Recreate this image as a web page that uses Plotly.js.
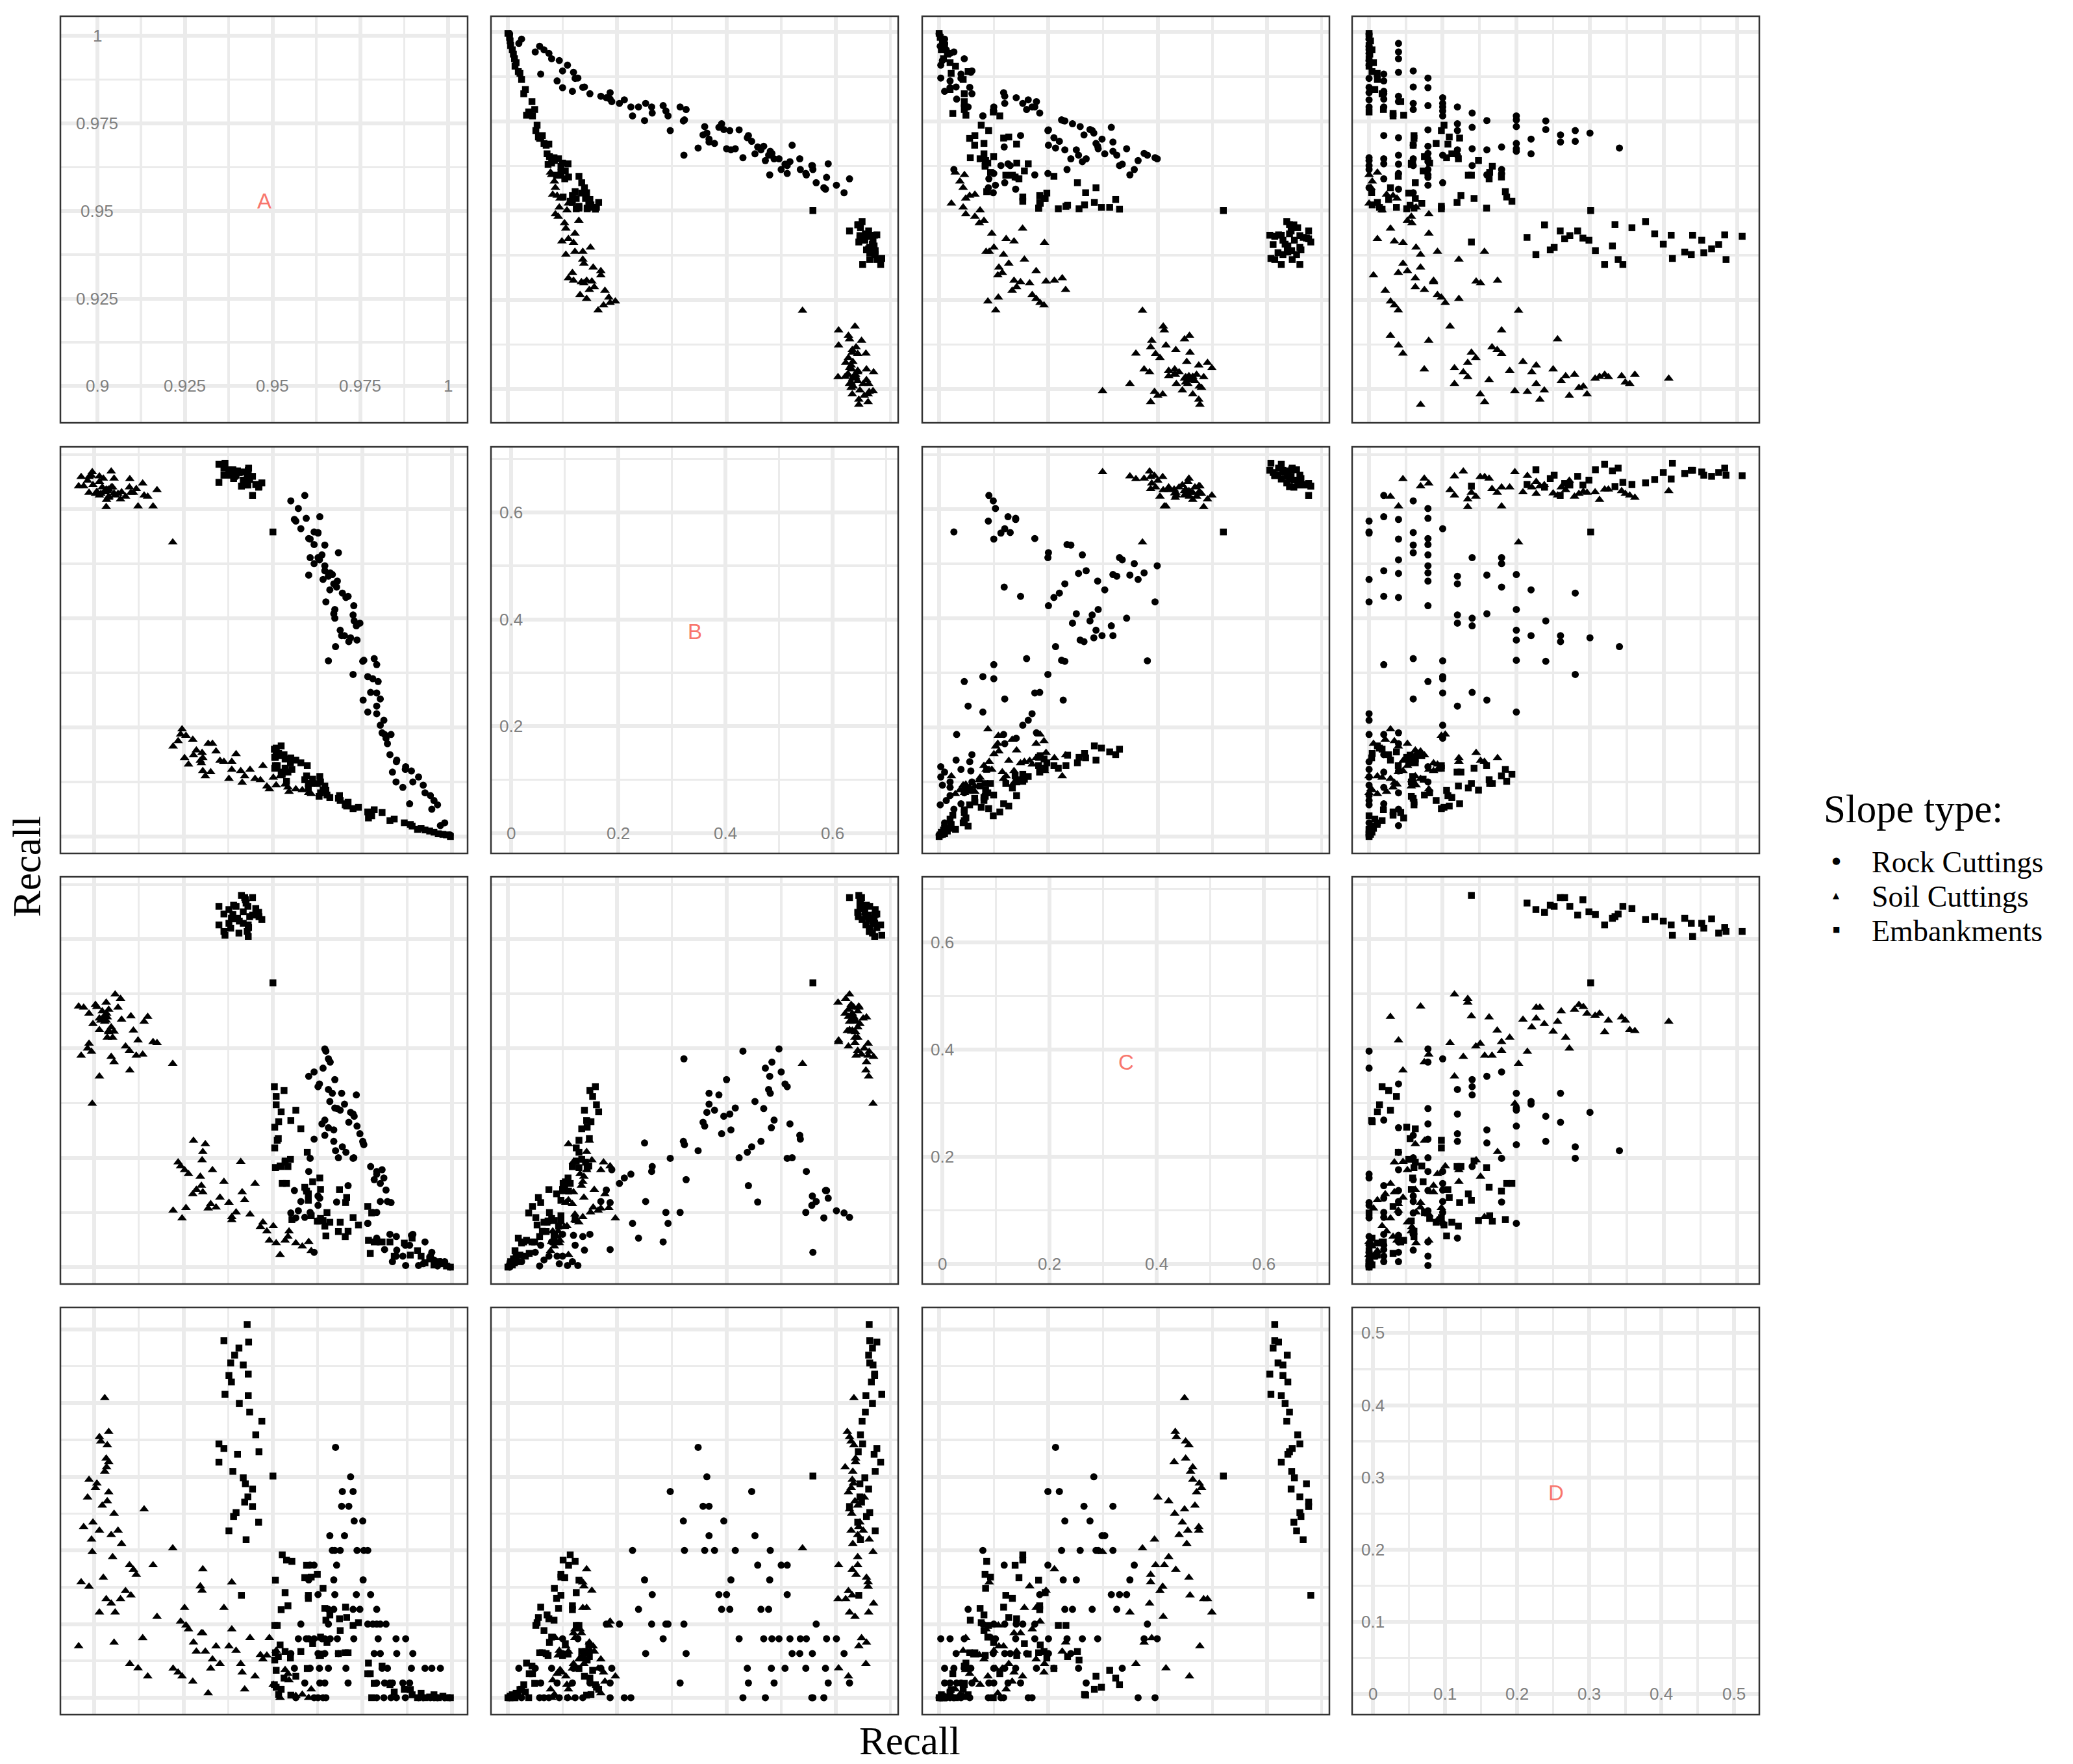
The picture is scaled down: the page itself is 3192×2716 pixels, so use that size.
<!DOCTYPE html>
<html>
<head>
<meta charset="utf-8">
<script src="https://cdn.plot.ly/plotly-3.0.1.min.js"></script>
<style>html,body{margin:0;padding:0;background:#ffffff;}</style>
</head>
<body>
<div id="chart" style="width:3192px;height:2716px;"></div>
<script>
// ---------------- DATA ----------------
const variables = ['A', 'B', 'C', 'D'];
const slopeTypes = ['Rock Cuttings', 'Soil Cuttings', 'Embankments'];

// Rock Cuttings
const rockA = [
0.9564,0.9615,0.9626,0.9640,0.9648,0.9790,0.9810,0.9830,0.9845,0.9870,0.9907,0.9920,0.9940,0.9950,0.9960,0.9980,0.9995,
0.9589,0.9631,0.9645,0.9710,0.9790,0.9812,0.9827,0.9834,0.9863,0.9882,
0.9560,0.9604,0.9630,0.9655,0.9704,0.9805,0.9820,0.9887,0.9925,0.9944,0.9968,
0.9550,0.9626,0.9645,0.9683,0.9783,0.9800,0.9846,0.9891,
0.9571,0.9593,0.9600,0.9615,0.9637,0.9645,0.9660,0.9680,0.9726,0.9794,0.9871,0.9844,
0.9816,0.9800,0.9790,0.9779,0.9765,0.9655,0.9578,
0.9790,0.9743,0.9724,0.9670,0.9655,
0.9773,0.9733,0.9673,0.9626,
0.9752,0.9670,0.9600,
0.9678,0.9615,0.9604,
0.9765,0.9754,0.9735,0.9688,0.9673,0.9666,
0.9659,0.9700,
0.9751,0.9727,
0.9712,0.9692,
0.9724,0.9694,
0.9717,
0.9675];
const rockB = [
0.578,0.558,0.556,0.471,0.430,0.225,0.213,0.187,0.137,0.123,0.109,0.094,0.075,0.066,0.058,0.025,0.003,
0.625,0.586,0.487,0.440,0.315,0.187,0.150,0.118,0.090,0.060,
0.581,0.545,0.507,0.482,0.438,0.190,0.170,0.120,0.080,0.050,0.020,
0.615,0.557,0.534,0.520,0.326,0.252,0.140,0.100,
0.601,0.583,0.546,0.535,0.516,0.496,0.483,0.468,0.423,0.284,0.128,0.100,
0.180,0.204,0.263,0.289,0.293,0.322,0.564,
0.239,0.391,0.406,0.463,0.477,
0.264,0.386,0.400,0.511,
0.250,0.408,0.479,
0.457,0.500,0.511,
0.228,0.323,0.360,0.378,0.416,0.480,
0.452,0.368,
0.321,0.395,
0.357,0.368,
0.297,0.446,
0.364,
0.348];
const rockC = [
0.090,0.027,0.113,0.364,0.395,0.170,0.163,0.118,0.056,0.040,0.003,0.006,0.020,0.013,0.002,0.010,0.000,
0.091,0.126,0.269,0.149,0.100,0.032,0.060,0.010,0.020,0.040,
0.140,0.100,0.335,0.255,0.210,0.178,0.120,0.058,0.046,0.027,0.010,
0.099,0.130,0.241,0.200,0.160,0.120,0.031,0.060,
0.103,0.140,0.175,0.234,0.262,0.399,0.375,0.290,0.200,0.046,0.003,0.020,
0.141,0.153,0.175,0.100,0.080,0.381,0.120,
0.053,0.244,0.280,0.230,0.325,
0.184,0.315,0.343,0.330,
0.227,0.251,0.349,
0.119,0.357,0.199,
0.080,0.224,0.258,0.287,0.291,0.318,
0.303,0.298,
0.230,0.276,
0.265,0.318,
0.199,0.220,
0.283,
0.213];
const rockD = [
0,0,0,0,0,0,0,0,0,0,0,0,0,0,0,0,0,
0.02,0.02,0.02,0.02,0.02,0.02,0.02,0.02,0.02,0.02,
0.04,0.04,0.04,0.04,0.04,0.04,0.04,0.04,0.04,0.04,0.04,
0.06,0.06,0.06,0.06,0.06,0.06,0.06,0.06,
0.08,0.08,0.08,0.08,0.08,0.08,0.08,0.08,0.08,0.08,0.08,0.08,
0.10,0.10,0.10,0.10,0.10,0.10,0.10,
0.12,0.12,0.12,0.12,0.12,
0.14,0.14,0.14,0.14,
0.16,0.16,0.16,
0.18,0.18,0.18,
0.20,0.20,0.20,0.20,0.20,0.20,
0.22,0.22,
0.24,0.24,
0.26,0.26,
0.28,0.28,
0.30,
0.34];

// Soil Cuttings
const soilA = [
0.915,0.9123,0.910,0.8957,0.9056,0.9136,0.9176,0.9059,0.9015,0.9048,0.9074,0.9034,0.9103,0.9088,0.8986,0.8964,0.9026,0.9118,0.911,0.9099,
0.9165,0.9052,0.8995,0.922,0.9077,0.8993,0.9048,0.9067,0.9015,0.8971,0.8997,0.9056,0.914,0.9023,0.9037,0.8982,0.9041,0.9004,0.9008,0.8986,
0.903,0.9035,0.9041,0.9034,0.9037,0.9019,0.9015,0.9041,0.903,
0.9607,0.9600,0.9582,0.9564,0.9545,0.9542,0.9534,0.9520,0.9509,0.9501,0.9490,0.9483,0.9472,0.9465,0.9450,0.9436,0.9421,0.9414,0.9410,0.9397,
0.9385,0.9385,0.9377,0.9363,0.9352,0.9341,0.9331,0.9326,0.9319,0.9311,0.9304,0.9304,0.9302,0.9300,0.9297,0.9286,0.9278,0.9276,0.9264,0.9257,
0.9253,0.9246,0.9242,0.9235,0.9221];
const soilB = [
0.623,0.605,0.655,0.642,0.656,0.647,0.635,0.625,0.660,0.669,0.618,0.604,0.630,0.623,0.659,0.659,0.656,0.637,0.630,0.640,
0.605,0.640,0.668,0.539,0.631,0.661,0.640,0.628,0.650,0.642,0.644,0.629,0.625,0.640,0.635,0.652,0.623,0.628,0.632,0.630,
0.631,0.617,0.636,0.636,0.633,0.628,0.625,0.621,0.633,
0.078,0.080,0.085,0.0868,0.082,0.090,0.0954,0.1107,0.094,0.108,0.0868,0.092,0.1298,0.1035,0.106,0.1226,0.1107,0.0988,0.120,0.151,
0.1226,0.137,0.106,0.137,0.139,0.156,0.170,0.118,0.170,0.1107,0.120,0.144,0.1536,0.1345,0.139,0.158,0.149,0.1775,0.132,0.1846,
0.144,0.1966,0.187,0.175,0.165];
const soilC = [
0.458,0.415,0.360,0.477,0.375,0.389,0.410,0.499,0.349,0.385,0.491,0.484,0.459,0.404,0.409,0.387,0.457,0.387,0.433,0.396,
0.412,0.420,0.299,0.372,0.453,0.394,0.439,0.475,0.455,0.475,0.445,0.431,0.449,0.468,0.420,0.400,0.471,0.480,0.476,0.464,
0.460,0.464,0.430,0.451,0.457,0.451,0.434,0.432,0.449,
0.0296,0.0463,0.038,0.0439,0.0654,0.0558,0.0487,0.0224,0.0439,0.0749,0.0487,0.0654,0.082,0.0735,0.1527,0.0964,0.1226,0.137,0.1927,0.1002,
0.0859,0.0916,0.1178,0.156,0.1274,0.1093,0.1775,0.1155,0.1073,0.2252,0.137,0.2109,0.1956,0.1489,0.1656,0.1417,0.2314,0.1336,0.1703,0.1083,
0.1775,0.0892,0.1846,0.1918,0.1035];
const soilD = [
0.029,0.040,0.046,0.070,0.075,0.081,0.110,0.116,0.116,0.128,0.134,0.134,0.139,0.145,0.151,0.157,0.163,0.167,0.174,0.180,
0.180,0.191,0.198,0.203,0.209,0.215,0.221,0.227,0.227,0.232,0.238,0.250,0.256,0.261,0.267,0.272,0.279,0.285,0.291,0.296,
0.307,0.313,0.320,0.325,0.343,0.348,0.354,0.361,0.407,
0.0113,0,0.0043,0.0025,0.0238,0.0326,0.0379,0,0.0638,0.0177,0.0812,0.0574,0.0521,0.0582,0.0291,0.0812,0.0113,0.0344,0.0461,0.0638,
0.0929,0.1567,0.0699,0.122,0.0461,0.0699,0.0521,0.0397,0.006,0.0628,0.0876,0.1745,0.1454,0.0876,0.1514,0.0628,0.0752,0.022,0.0929,0.0982,
0.122,0.0291,0.1035,0.0344,0.0397];

// Embankments
const embA = [
0.9996,0.9985,0.9975,0.9962,0.9950,0.9938,0.9925,0.9914,0.9904,0.9889,0.9884,0.9867,0.9839,0.9827,0.9805,0.9783,0.9772,0.9767,0.9776,0.9765,
0.9739,0.9724,0.9710,0.9706,0.9703,0.9702,0.9688,0.9686,0.9683,0.9659,0.9651,0.9648,0.9645,0.9633,0.9629,
0.9640,0.9624,0.9607,0.9599,0.9599,0.9594,0.9589,0.9553,0.9538,0.9526,0.9542,0.9534,0.9523,0.9512,0.9507,0.9505,
0.9504,0.9531,0.9509,0.9509,0.9523,0.9564,0.9505,0.9516,0.9550,0.9515,0.9578,0.9596,0.9549,0.9534,0.9520,0.9507,0.9631,0.9611,0.9633,
0.9425,0.9377,0.946,0.939,0.9397,0.9443,0.9421,0.943,0.9443,0.9423,0.9417,0.9388,0.9349,0.9401,0.9461,0.9363,0.9349,0.9452,0.9469,0.9435,
0.9406,0.9431,0.9366,0.9384,0.9377,0.9431,0.9417,0.9382,0.9393,0.9405,0.9432,0.9363,0.9428,0.9412,0.950];
const embB = [
0.000,0.003,0.004,0.005,0.008,0.010,0.012,0.015,0.013,0.019,0.022,0.025,0.032,0.029,0.044,0.049,0.039,0.034,0.038,0.045,
0.0534,0.0511,0.063,0.0558,0.060,0.058,0.066,0.0749,0.070,0.0716,0.076,0.0844,0.0926,0.080,0.0735,
0.085,0.097,0.097,0.089,0.097,0.111,0.104,0.123,0.101,0.114,0.118,0.125,0.118,0.130,0.130,0.125,
0.160,0.150,0.155,0.162,0.166,0.140,0.145,0.152,0.144,0.149,0.135,0.130,0.135,0.142,0.148,0.145,0.110,0.105,0.100,
0.645,0.672,0.640,0.656,0.662,0.625,0.647,0.644,0.660,0.644,0.653,0.672,0.682,0.670,0.641,0.675,0.649,0.645,0.648,0.654,
0.667,0.655,0.684,0.665,0.671,0.671,0.668,0.662,0.660,0.667,0.675,0.662,0.661,0.642,0.558];
const embC = [
0.000,0.002,0.006,0.010,0.004,0.015,0.008,0.020,0.030,0.053,0.022,0.044,0.020,0.046,0.046,0.046,0.025,0.049,0.099,0.111,
0.077,0.0906,0.0654,0.1274,0.118,0.0558,0.082,0.1417,0.065,0.082,0.0997,0.057,0.0749,0.089,0.0844,
0.085,0.084,0.094,0.134,0.122,0.139,0.146,0.087,0.153,0.153,0.184,0.194,0.184,0.232,0.182,0.218,
0.330,0.323,0.312,0.297,0.284,0.287,0.256,0.266,0.268,0.235,0.253,0.210,0.197,0.192,0.185,0.182,0.163,0.156,0.142,
0.666,0.654,0.649,0.662,0.660,0.676,0.676,0.660,0.644,0.672,0.650,0.645,0.626,0.638,0.641,0.646,0.660,0.656,0.636,0.641,
0.633,0.626,0.607,0.638,0.629,0.605,0.629,0.620,0.637,0.611,0.621,0.614,0.614,0.680,0.520];
const embD = [
0.000,0.000,0.002,0.000,0.004,0.001,0.000,0.006,0.000,0.004,0.011,0.0113,0.0078,0.0177,0.043,0.0195,0.0326,0.047,0.000,0.0326,
0.1018,0.0982,0.061,0.1089,0.123,0.061,0.0911,0.1071,0.0599,0.1124,0.0752,0.1053,0.1213,0.0823,0.0574,
0.1486,0.1674,0.1638,0.1348,0.139,0.1798,0.1631,0.1851,0.1869,0.194,0.1248,0.1426,0.1195,0.0982,0.1596,0.0982,
0.0177,0.0266,0.0372,0.0142,0.0113,0.0291,0.0511,0.0043,0.0035,0.0557,0.0628,0.0397,0.0539,0.0628,0.0716,0.061,0.0592,0.0734,0.0574,
0.2145,0.2266,0.2383,0.2461,0.2514,0.2596,0.2656,0.2727,0.2833,0.2904,0.2986,0.3074,0.3199,0.3305,0.334,0.3383,0.3447,0.357,0.3755,0.3879,
0.3996,0.4103,0.412,0.4287,0.4376,0.4394,0.4518,0.4546,0.4652,0.4748,0.483,0.4848,0.5067,0.139,0.301];

// Tick labels of the diagonal panels
const tickValsA = [0.9, 0.925, 0.95, 0.975, 1];
const tickTextA = ['0.9', '0.925', '0.95', '0.975', '1'];
const tickValsB = [0, 0.2, 0.4, 0.6];
const tickTextB = ['0', '0.2', '0.4', '0.6'];
const tickValsC = [0, 0.2, 0.4, 0.6];
const tickTextC = ['0', '0.2', '0.4', '0.6'];
const tickValsD = [0, 0.1, 0.2, 0.3, 0.4, 0.5];
const tickTextD = ['0', '0.1', '0.2', '0.3', '0.4', '0.5'];

// ---------------- BUILD ----------------
const groups = [
  {A: rockA, B: rockB, C: rockC, D: rockD},
  {A: soilA, B: soilB, C: soilC, D: soilD},
  {A: embA, B: embB, C: embC, D: embD}
];
const ticks = {
  A: {vals: tickValsA, text: tickTextA},
  B: {vals: tickValsB, text: tickTextB},
  C: {vals: tickValsC, text: tickTextC},
  D: {vals: tickValsD, text: tickTextD}
};

const W = 3192, H = 2716;
const colPx = [[93, 720], [756, 1383], [1420, 2047], [2082, 2709]];
const rowPx = [[25, 651], [688, 1314], [1350, 1977], [2013, 2640]];
const offRange = {A: [0.8906, 1.0044], B: [-0.031, 0.714], C: [-0.031, 0.714], D: [-0.023, 0.530]};
const diagRange = {A: [0.8895, 1.0056], B: [-0.0375, 0.7222], C: [-0.0375, 0.7222], D: [-0.0285, 0.5355]};
const tick0 = {A: 0.9, B: 0, C: 0, D: 0};
const majorStep = {A: 0.025, B: 0.2, C: 0.2, D: 0.1};
const minorStep = {A: 0.0125, B: 0.1, C: 0.1, D: 0.05};

const symbols = ['circle', 'triangle-up', 'square'];
const sizes = [11, 13, 10.5];
const GRID = '#EBEBEB';

function axName(k) { return k === 0 ? '' : String(k + 1); }

function axisDef(v, range, domain, anchor) {
  return {
    domain: domain, anchor: anchor, range: range, autorange: false,
    showticklabels: false, ticks: '', zeroline: false, showline: false,
    showgrid: true, gridcolor: GRID, gridwidth: 6,
    tick0: tick0[v], dtick: majorStep[v],
    minor: {tick0: tick0[v], dtick: minorStep[v], showgrid: true, gridcolor: GRID, gridwidth: 3.5, ticks: ''},
    fixedrange: true
  };
}

const traces = [];
const layout = {
  width: W, height: H,
  margin: {l: 0, r: 0, t: 0, b: 0, pad: 0},
  paper_bgcolor: '#ffffff', plot_bgcolor: '#ffffff',
  showlegend: false,
  font: {family: 'Liberation Sans, Arial, sans-serif'},
  shapes: [], annotations: []
};

for (let i = 0; i < 4; i++) {
  for (let j = 0; j < 4; j++) {
    const k = i * 4 + j;
    const n = axName(k);
    const xd = [colPx[j][0] / W, colPx[j][1] / W];
    const yd = [1 - rowPx[i][1] / H, 1 - rowPx[i][0] / H];
    const rng = (i === j) ? diagRange : offRange;
    layout['xaxis' + n] = axisDef(variables[j], rng[variables[j]], xd, 'y' + n);
    layout['yaxis' + n] = axisDef(variables[i], rng[variables[i]], yd, 'x' + n);

    layout.shapes.push({
      type: 'rect', xref: 'paper', yref: 'paper',
      x0: xd[0], x1: xd[1], y0: yd[0], y1: yd[1],
      line: {color: '#333333', width: 2.5}, fillcolor: 'rgba(0,0,0,0)', layer: 'above'
    });

    if (i !== j) {
      for (let g = 0; g < 3; g++) {
        traces.push({
          type: 'scatter', mode: 'markers',
          x: groups[g][variables[j]], y: groups[g][variables[i]],
          xaxis: 'x' + n, yaxis: 'y' + n,
          name: slopeTypes[g], showlegend: false, hoverinfo: 'skip',
          marker: {symbol: symbols[g], size: sizes[g], color: '#000000', line: {width: 0}}
        });
      }
    } else {
      const v = variables[i];
      const t = ticks[v];
      layout.annotations.push({
        xref: 'x' + n + ' domain', yref: 'y' + n + ' domain', x: 0.5, y: 0.545,
        text: v, showarrow: false, xanchor: 'center', yanchor: 'middle',
        font: {family: 'Liberation Sans, Arial, sans-serif', size: 33, color: '#F8766D'}
      });
      t.vals.forEach((val, idx) => {
        layout.annotations.push({
          xref: 'x' + n, yref: 'y' + n, x: val, y: t.vals[0],
          text: t.text[idx], showarrow: false, xanchor: 'center', yanchor: 'middle',
          font: {family: 'Liberation Sans, Arial, sans-serif', size: 26, color: '#7F7F7F'}
        });
        if (idx > 0) {
          layout.annotations.push({
            xref: 'x' + n, yref: 'y' + n, x: t.vals[0], y: val,
            text: t.text[idx], showarrow: false, xanchor: 'center', yanchor: 'middle',
            font: {family: 'Liberation Sans, Arial, sans-serif', size: 26, color: '#7F7F7F'}
          });
        }
      });
    }
  }
}

// axis titles
layout.annotations.push({
  xref: 'paper', yref: 'paper', x: 1401 / W, y: 1 - 2680 / H,
  text: 'Recall', showarrow: false, xanchor: 'center', yanchor: 'middle',
  font: {family: 'Liberation Serif, Times New Roman, serif', size: 61, color: '#000000'}
});
layout.annotations.push({
  xref: 'paper', yref: 'paper', x: 41 / W, y: 1 - 1334 / H,
  text: 'Recall', showarrow: false, xanchor: 'center', yanchor: 'middle', textangle: -90,
  font: {family: 'Liberation Serif, Times New Roman, serif', size: 61, color: '#000000'}
});

// legend (manual, as text)
layout.annotations.push({
  xref: 'paper', yref: 'paper', x: 2806 / W, y: 1 - 1246 / H,
  text: 'Slope type:', showarrow: false, xanchor: 'left', yanchor: 'middle',
  font: {family: 'Liberation Serif, Times New Roman, serif', size: 61, color: '#000000'}
});
const legendGlyphs = ['\u25CF', '\u25B2', '\u25A0'];
const legendGlyphSize = [15, 13, 12];
const legendRowsPx = [1325, 1378, 1431];
slopeTypes.forEach((name, g) => {
  layout.annotations.push({
    xref: 'paper', yref: 'paper', x: 2827 / W, y: 1 - legendRowsPx[g] / H,
    text: legendGlyphs[g], showarrow: false, xanchor: 'center', yanchor: 'middle',
    font: {family: 'DejaVu Sans, sans-serif', size: legendGlyphSize[g], color: '#000000'}
  });
  layout.annotations.push({
    xref: 'paper', yref: 'paper', x: 2880 / W, y: 1 - (legendRowsPx[g] + 2) / H,
    text: name, showarrow: false, xanchor: 'left', yanchor: 'middle',
    font: {family: 'Liberation Serif, Times New Roman, serif', size: 46, color: '#000000'}
  });
});

Plotly.newPlot('chart', traces, layout, {staticPlot: true, displayModeBar: false});
</script>
</body>
</html>
